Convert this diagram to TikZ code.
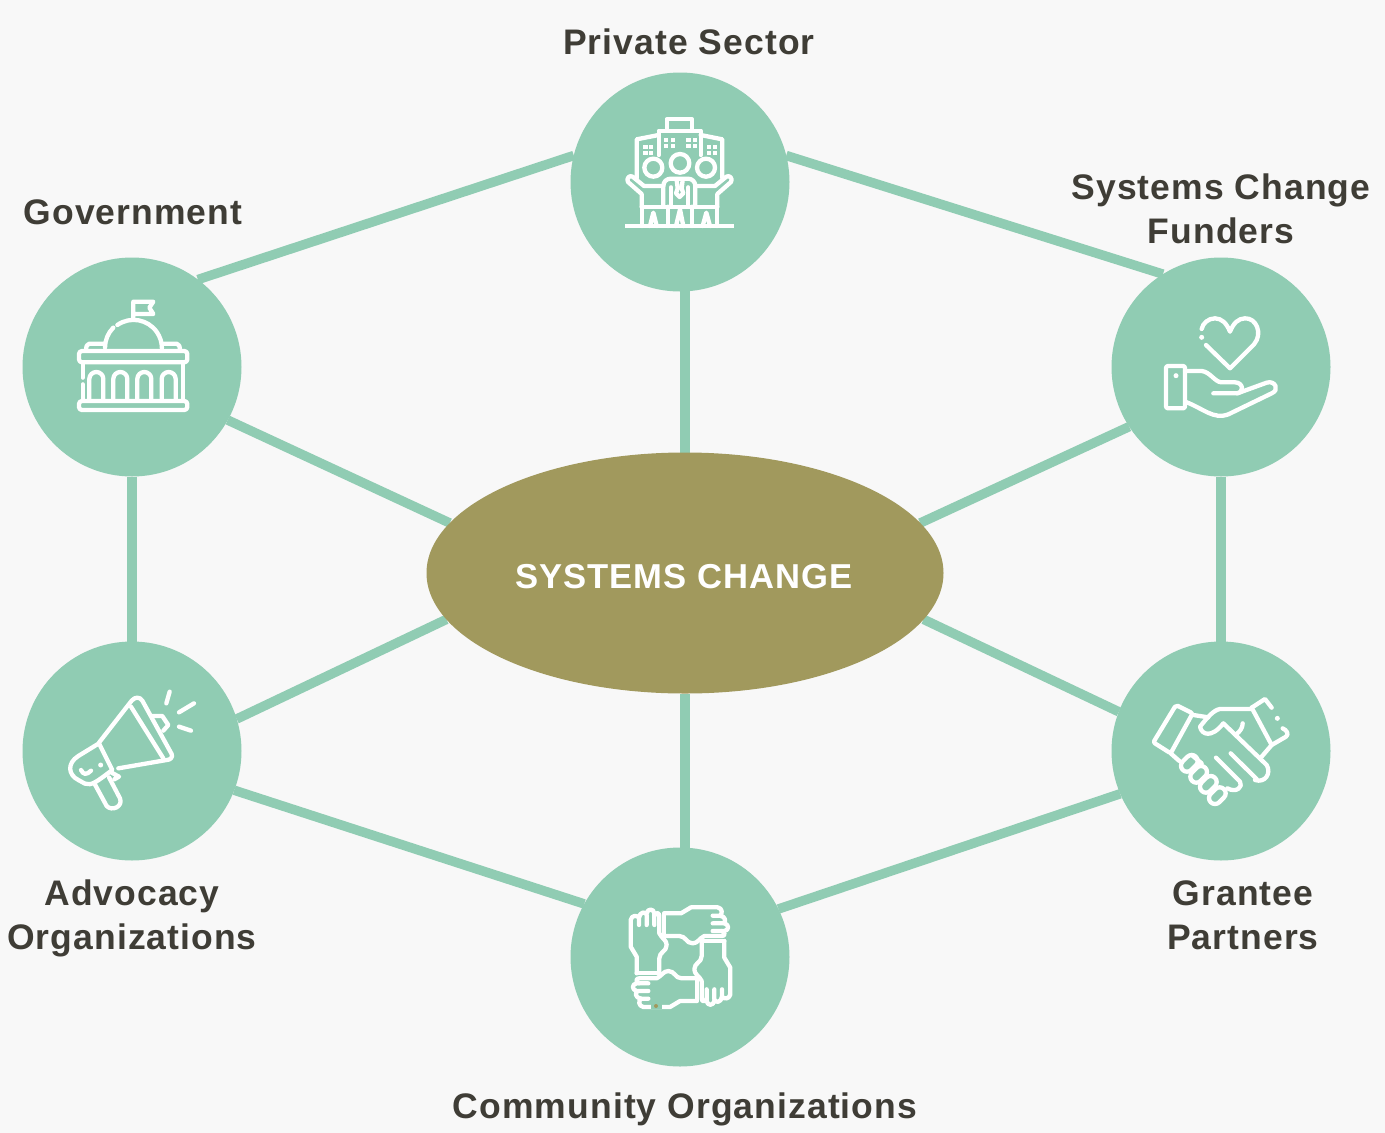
\documentclass[tikz,border=0pt]{standalone}
\usepackage{fontspec}
\setmainfont[LetterSpace=3,BoldFont={Liberation Sans Bold}]{Liberation Sans}
\definecolor{bgc}{HTML}{F8F8F8}
\definecolor{tealc}{HTML}{90CCB3}
\definecolor{olive}{HTML}{A1995D}
\definecolor{ink}{HTML}{3F3D36}
\pgfdeclarelayer{bg}
\pgfdeclarelayer{back}
\pgfsetlayers{back,bg,main}
\usetikzlibrary{shapes.geometric}
\tikzset{
  hub/.style={circle,fill=tealc,minimum size=219pt,inner sep=0pt,outer sep=0pt},
  core/.style={ellipse,fill=olive,minimum width=517pt,minimum height=241pt,inner sep=0pt,outer sep=0pt},
  lnk/.style={draw=tealc,line width=9.5pt},
  lbl/.style={text=ink,font=\fontsize{35.5}{44}\selectfont\bfseries,align=center,inner sep=0pt},
  ico/.style={draw=white,line width=4.3pt,line cap=round,line join=round,fill=none},
  zoomed/.style={shift={#1},x=0.33333pt,y=-0.33333pt},
}
\begin{document}
\begin{tikzpicture}[x=1pt,y=-1pt]
\begin{pgfonlayer}{back}
\fill[bgc] (0,0) rectangle (1385,1133);
\end{pgfonlayer}
\useasboundingbox (0,0) rectangle (1385,1133);
\node[core] (center) at (685,573) {};
\node[hub] (top) at (680,182) {};
\node[hub] (gov) at (132,367) {};
\node[hub] (fund) at (1221,367) {};
\node[hub] (adv) at (132,751) {};
\node[hub] (grant) at (1221,751) {};
\node[hub] (comm) at (680,957) {};
\begin{pgfonlayer}{bg}
\draw[lnk] (top.166.6) -- (gov.53.2);
\draw[lnk] (top.14.4) -- (fund.122.8);
\draw[lnk] (gov) -- (adv);
\draw[lnk] (fund) -- (grant);
\draw[lnk] (adv.-21.6) -- (comm.151.6);
\draw[lnk] (grant.203.5) -- (comm.26.6);
\draw[lnk] (center |- top) -- (center);
\draw[lnk] (center |- comm) -- (center);
\draw[lnk] (gov.-29) -- (center.168);
\draw[lnk] (fund.213.2) -- (center.12.2);
\draw[lnk] (adv.17.8) -- (center.191.1);
\draw[lnk] (grant.159.4) -- (center.-11.2);
\end{pgfonlayer}
\node[lbl,text=white,font=\fontsize{34.6}{44}\selectfont\bfseries] (tcenter) at (684,577) {SYSTEMS CHANGE};
\node[lbl] (ttop) at (689,42) {Private Sector};
\node[lbl] (tgov) at (133,212) {Government};
\node[lbl] (tfund) at (1221,209) {Systems Change\\Funders};
\node[lbl] (tadv) at (132,918) {Advocacy\\Organizations};
\node[lbl] (tgrant) at (1243,915) {Grantee\\Partners};
\node[lbl] (tcomm) at (685,1109.5) {Community Organizations};

% private sector icon
\begin{scope}[zoomed={(600,100)}]
\draw[ico] (200,90) -- (200,58) -- (276,58) -- (276,90);
\draw[ico] (176,165) -- (176,92) -- (302,92) -- (302,165);
\draw[ico] (176,105) -- (110,118) -- (110,235);
\draw[ico] (302,105) -- (367,118) -- (367,235);
\foreach \wx/\wy in {130/136,147/136,130/154,147/154,321/136,338/136,321/154,338/154,191/114,213/114,191/133,213/133,259/114,279/114,259/133,279/133}
  \fill[white] (\wx,\wy) rectangle ++(13,12);
\draw[ico] (160,203) circle[radius=27];
\draw[ico] (240,190) circle[radius=28];
\draw[ico] (318,203) circle[radius=27];
\draw[ico] (125,320) -- (125,282) -- (84,246) .. controls (78,236) and (88,224) .. (98,230) -- (132,258) -- (190,258);
\draw[ico] (352,320) -- (352,282) -- (393,246) .. controls (399,236) and (389,224) .. (379,230) -- (345,258) -- (286,258);
\draw[ico] (190,320) -- (190,258) .. controls (190,245) and (200,236) .. (212,236) -- (264,236) .. controls (276,236) and (286,245) .. (286,258) -- (286,320);
\draw[ico] (213,262) -- (213,320);
\draw[ico] (265,262) -- (265,320);
\draw[ico] (230,240) -- (233,265) -- (228,280) -- (239,291) -- (250,280) -- (245,265) -- (248,240);
\draw[ico] (125,320) -- (352,320);
\draw[ico] (125,320) -- (125,378);
\draw[ico] (203,320) -- (203,378);
\draw[ico] (277,320) -- (277,378);
\draw[ico] (352,320) -- (352,378);
\draw[ico] (150,378) -- (160,338) -- (170,378);
\draw[ico] (228,378) -- (240,328) -- (250,378);
\draw[ico] (308,378) -- (319,338) -- (330,378);
\draw[ico,line cap=butt] (75,378) -- (402,378);
\end{scope}

% government icon
\begin{scope}[zoomed={(60,285)}]
\draw[ico] (220,100) -- (220,50) -- (280,50) -- (268,68) -- (280,87) -- (220,87);
\draw[ico] (135,188) arc[start angle=180,end angle=225,radius=85];
\draw[ico] (172,120) arc[start angle=235,end angle=360,radius=85];
\draw[ico] (130,176) -- (88,176) .. controls (82,176) and (78,184) .. (78,196);
\draw[ico] (310,176) -- (350,176) .. controls (356,176) and (360,184) .. (360,196);
\draw[ico,rounded corners=3pt] (57,198) rectangle (382,232);
\draw[ico,rounded corners=3pt] (57,348) rectangle (382,375);
\draw[ico] (68,232) -- (68,278);
\draw[ico] (68,298) -- (68,345);
\draw[ico] (370,232) -- (370,345);
\foreach \ax in {88,160,232,305}
  \draw[ico] (\ax,345) -- (\ax,282) arc[start angle=180,end angle=360,radius=21] -- ++(0,63);
\end{scope}

% funders icon
\begin{scope}[zoomed={(1150,305)}]
\draw[ico] (168,120) -- (240,190) -- (312,118) .. controls (340,85) and (318,38) .. (285,40) .. controls (265,40) and (250,55) .. (240,80) .. controls (230,55) and (215,40) .. (195,40) .. controls (175,40) and (158,55) .. (155,72);
\fill[white] (155,97) circle[radius=7.5];
\draw[ico,rounded corners=2pt] (48,183) rectangle (105,310);
\fill[white] (78,212) circle[radius=7.5];
\draw[ico] (105,198) -- (155,198) .. controls (180,200) and (195,232) .. (215,232) -- (255,232) .. controls (280,232) and (285,265) .. (258,265) -- (190,265);
\draw[ico] (262,265) -- (350,233) .. controls (375,225) and (390,255) .. (365,265) -- (235,328) .. controls (190,345) and (160,310) .. (105,290);
\end{scope}

% advocacy icon
\begin{scope}[zoomed={(55,680)}]
\draw[ico] (344,35) -- (334,70);
\draw[ico] (417,70) -- (372,97);
\draw[ico] (372,140) -- (408,152);
\draw[ico] (132,188) -- (230,62) .. controls (240,50) and (255,50) .. (262,62) -- (350,222) .. controls (355,232) and (345,240) .. (335,240) -- (190,265);
\draw[ico] (228,80) -- (325,235);
\draw[ico] (292,108) -- (322,108) -- (340,135) -- (325,152);
\draw[ico] (132,190) -- (70,228) .. controls (35,250) and (40,285) .. (70,300) -- (90,311) .. controls (110,318) and (125,305) .. (172,270) -- (132,190);
\draw[ico] (78,270) .. controls (85,285) and (95,285) .. (108,272);
\fill[white] (137,255) circle[radius=7.5];
\draw[ico] (118,310) -- (155,378) .. controls (170,395) and (205,380) .. (195,355) -- (162,292);
\draw[ico] (170,278) -- (192,290) -- (178,298);
\end{scope}

% grantee icon
\begin{scope}[zoomed={(1140,685)}]
\draw[ico,rounded corners=2pt] (108,60) -- (158,85) -- (92,205) -- (40,172) -- cycle;
\draw[ico] (335,68) -- (375,42) -- (395,68);
\draw[ico] (335,68) -- (395,180) -- (438,155) .. controls (448,148) and (440,135) .. (428,130);
\fill[white] (412,100) circle[radius=7.5];
\draw[ico] (160,90) -- (205,97);
\draw[ico] (332,72) -- (240,72) .. controls (220,75) and (200,100) .. (180,125) .. controls (185,150) and (215,160) .. (250,115) -- (380,240) .. controls (395,265) and (375,295) .. (345,285);
\draw[ico] (228,218) -- (300,290) .. controls (310,305) and (290,325) .. (262,310);
\draw[ico] (272,205) -- (350,282);
\draw[ico] (308,115) .. controls (308,128) and (300,140) .. (288,148);
\draw[ico] (395,180) -- (365,215);
\draw[ico] (92,205) -- (118,228);
\draw[ico] (155,210) -- (185,235);
\foreach \hx/\hy in {148/235,176/268,205/298,232/332}{
  \begin{scope}[shift={(\hx,\hy)},rotate=45]
  \draw[ico,rounded corners=6pt] (-28,-18) rectangle (28,18);
  \end{scope}}
\end{scope}

% community icon
\begin{scope}[zoomed={(615,895)}]
\foreach \a in {0,-90,-180,-270}{
\begin{scope}[rotate around={\a:(196.5,186.5)}]
\draw[ico] (65,235) -- (133,235);
\draw[ico] (65,235) -- (65,185) -- (47,155) -- (47,75) .. controls (50,60) and (66,60) .. (72,68) -- (72,90);
\draw[ico] (72,68) .. controls (74,50) and (93,48) .. (95,60) -- (95,90);
\draw[ico] (95,55) .. controls (98,40) and (116,40) .. (118,55) -- (118,90);
\draw[ico] (118,62) .. controls (122,52) and (133,52) .. (133,62) -- (133,115) .. controls (140,130) and (155,135) .. (155,150) .. controls (155,170) and (133,170) .. (133,190) -- (133,235);
\end{scope}}
\draw[tealc,line width=6pt] (108,333) -- (140,333);
\fill[olive] (123,333) circle[radius=6];
\end{scope}
\end{tikzpicture}
\end{document}
